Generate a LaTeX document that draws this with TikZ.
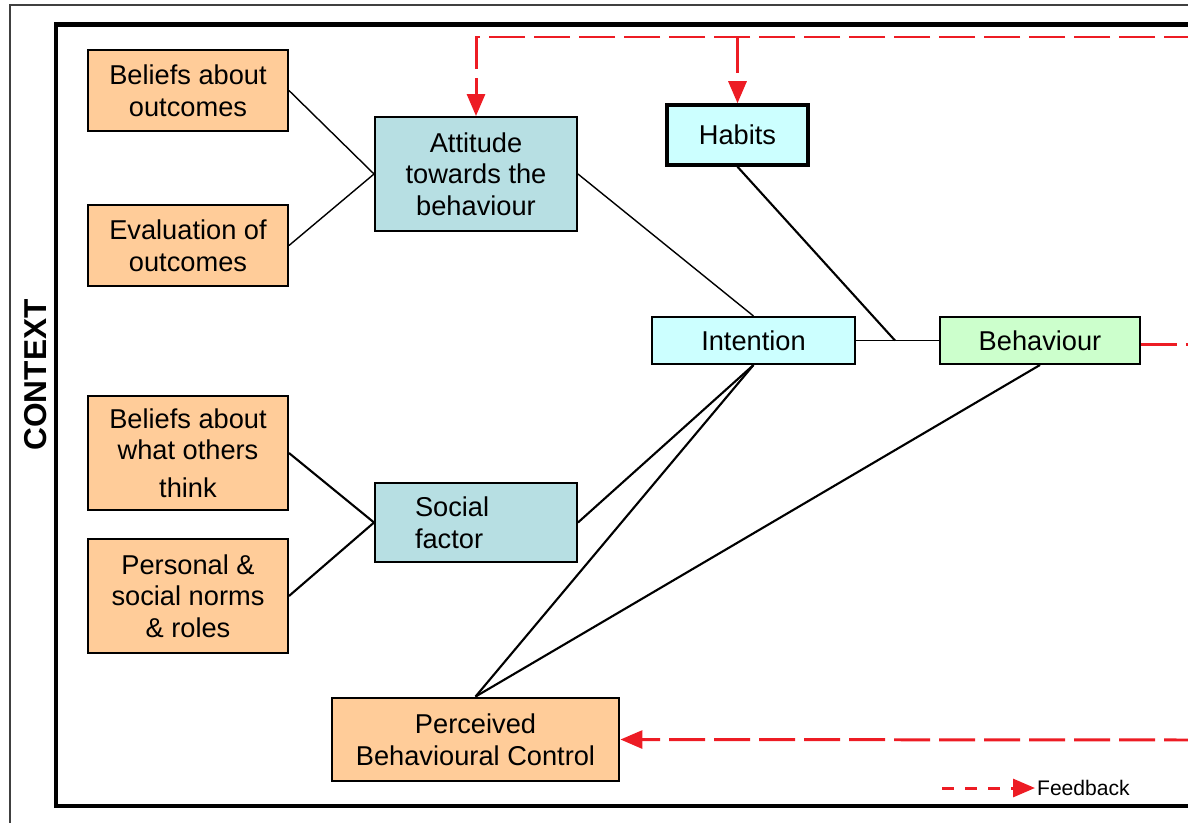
\documentclass[tikz,border=0pt]{standalone}
\usepackage{fontspec}
\setmainfont{Liberation Sans}
\usetikzlibrary{arrows.meta}

\definecolor{peach}{HTML}{FFCC99}
\definecolor{attblue}{HTML}{B7DFE3}
\definecolor{palecyan}{HTML}{CCFFFF}
\definecolor{palegreen}{HTML}{CCFFCC}
\definecolor{fbred}{HTML}{ED1C24}

\begin{document}
\begin{tikzpicture}[x=0.2mm, y=-0.2mm,
    box/.style={draw, line width=1.1pt, align=center, inner sep=0pt,
      font=\fontsize{15.5}{18}\selectfont},
    belief/.style={box, fill=peach, minimum width=40mm, minimum height=16.2mm},
    tallbelief/.style={belief, minimum height=22.8mm},
    construct/.style={box, fill=attblue, minimum width=40.4mm},
    link/.style={line width=1.2pt},
    thinlink/.style={line width=0.8pt},
    fbline/.style={fbred, line width=1.7pt, dash pattern=on 7.2mm off 1.8mm},
    fb/.style={fbline, -{Triangle[length=4.4mm, width=3.6mm]}}]

  \useasboundingbox (0,0) rectangle (1188,822);
  \clip (0,0) rectangle (1188,822);

  % ---- frames ----
  \draw[black!75, line width=0.8pt] (10,5) rectangle (1260,880);
  \draw[line width=2.4pt] (56,24.5) rectangle (1240,806);
  \node[rotate=90, font=\bfseries\fontsize{18}{20}\selectfont] (ctx) at (36,375) {CONTEXT};

  % ---- left column: beliefs and norms ----
  \node[belief] (bao) at (188,90.5) {Beliefs about\\outcomes};
  \node[belief] (evo) at (188,245.5) {Evaluation of\\outcomes};
  \node[tallbelief] (bwo) at (188,453) {Beliefs about\\what others\\[3.5pt]think};
  \node[tallbelief] (psn) at (188,596) {Personal \&\\social norms\\\& roles};

  % ---- attitude and social factor ----
  \node[construct, minimum height=22.8mm] (att) at (476,174)
    {Attitude\\towards the\\behaviour};
  \node[construct, minimum height=15.8mm, inner xsep=8mm, text width=24.4mm,
    align=left] (soc) at (476,522.5) {Social\\factor};

  % ---- habits, intention, behaviour ----
  \node[box, fill=palecyan, line width=2pt, minimum width=28.2mm,
    minimum height=12mm] (hab) at (737.5,135) {Habits};
  \node[box, fill=palecyan, minimum width=40.6mm, minimum height=9.4mm]
    (int) at (753.5,340.5) {Intention};
  \node[box, fill=palegreen, minimum width=40mm, minimum height=9.4mm]
    (beh) at (1040,340.5) {Behaviour};

  % ---- perceived behavioural control ----
  \node[box, fill=peach, line width=1.6pt, minimum width=57.4mm,
    minimum height=16.6mm] (pbc) at (475.5,739.5)
    {Perceived\\Behavioural Control};

  % ---- links ----
  \draw[thinlink] (bao.east) -- (att.west);
  \draw[thinlink] (evo.east) -- (att.west);
  \draw[thinlink] (att.east) -- (int.north);
  \draw[link] (bwo.east) -- (soc.west);
  \draw[link] (psn.east) -- (soc.west);
  \draw[link] (soc.east) -- (int.south);
  \draw[link] (pbc.north) -- (int.south);
  \draw[link] (pbc.north) -- (beh.south);
  \coordinate (jn) at (895,340.5);
  \draw[thinlink] (int.east) -- (beh.west);
  \draw[link] (hab.south) -- (jn);

  % ---- feedback loops ----
  \coordinate (fbtop) at (1200,37);
  \coordinate (fbmid) at (1200,344);
  \coordinate (fbbot) at (1200,740);
  \draw[fb] (fbtop) -| (att.north);
  \draw[fb] (hab.north |- fbtop) -- (hab.north);
  \draw[fbline] (beh.east |- fbmid) -- (fbmid);
  \draw[fb] (fbbot) -- (pbc.east);

  % ---- legend ----
  \node[right, inner sep=1pt, font=\fontsize{12}{14}\selectfont] (fbtxt)
    at (1035,788) {Feedback};
  \coordinate (lgs) at (942,788);
  \draw[fbline, dash pattern=on 2.4mm off 2.2mm,
    -{Triangle[length=4.4mm, width=3.6mm]}] (lgs) -- (fbtxt.west);

\end{tikzpicture}
\end{document}
